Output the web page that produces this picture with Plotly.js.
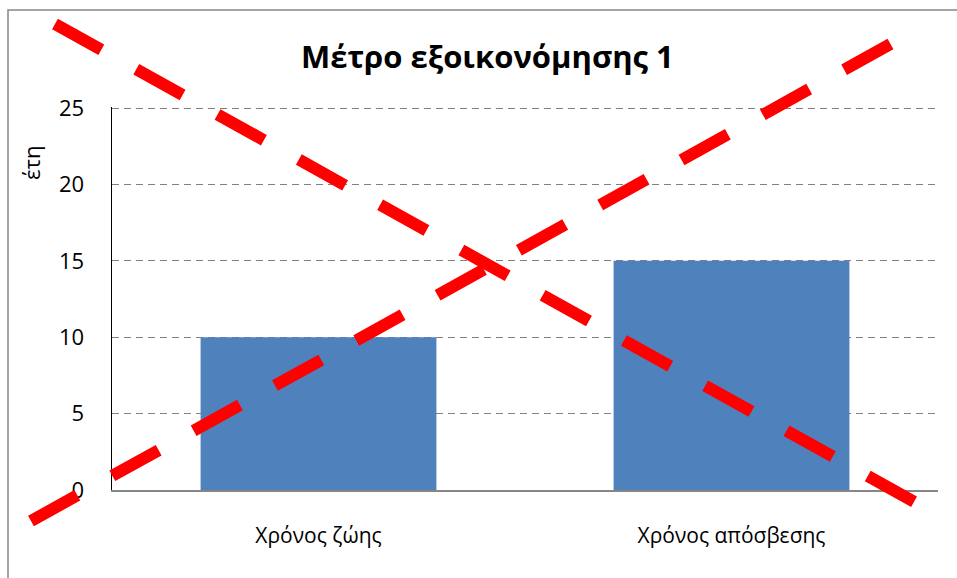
<!DOCTYPE html>
<html>
<head>
<meta charset="utf-8">
<script src="https://cdn.plot.ly/plotly-3.0.1.min.js"></script>
<style>html,body{margin:0;padding:0;background:#fff;}#chart{width:957px;height:578px;}</style>
</head>
<body>
<div id="chart"></div>
<script>
const categories = ["Χρόνος ζώης", "Χρόνος απόσβεσης"];
const years = [10, 15];
const yTicks = [0, 5, 10, 15, 20, 25];
const chartTitle = "Μέτρο εξοικονόμησης 1";
const yTitle = "έτη";

const W = 957, H = 578;
const L = 112, R = 938, T = 107, B = 490;
const px = x => (x - L) / (R - L);
const py = y => (B - y) / (B - T);
const FONT = "Open Sans, Noto Sans, sans-serif";

const trace = {
  type: "bar",
  x: categories,
  y: years,
  marker: {color: "#4F81BD", line: {width: 0}},
  hoverinfo: "none"
};

const layout = {
  width: W, height: H,
  margin: {l: L, r: W - R, t: T, b: H - B, pad: 0},
  paper_bgcolor: "#ffffff",
  plot_bgcolor: "#ffffff",
  showlegend: false,
  bargap: 0.429,
  font: {family: FONT, color: "#000000", size: 22},
  xaxis: {
    showline: true, linecolor: "#868686", linewidth: 1.5,
    showgrid: false, zeroline: false,
    ticks: "", tickfont: {family: FONT, size: 21, color: "#000"},
    ticklabelstandoff: 26,
    fixedrange: true
  },
  yaxis: {
    range: [0, 25.07], tickvals: yTicks, ticktext: yTicks.map(String),
    showline: true, linecolor: "#000000", linewidth: 1.5,
    showgrid: true, gridcolor: "#808080", gridwidth: 1, griddash: "7px,5px",
    zeroline: false, ticks: "",
    tickfont: {family: FONT, size: 22, color: "#000"},
    ticklabelstandoff: 22,
    fixedrange: true
  },
  annotations: [
    {text: "<b>" + chartTitle + "</b>", xref: "paper", yref: "paper",
     x: px(487), y: py(56), xanchor: "center", yanchor: "middle", showarrow: false,
     font: {family: FONT, size: 31, color: "#000"}},
    {text: yTitle, xref: "paper", yref: "paper", textangle: -90,
     x: px(31), y: py(163), xanchor: "center", yanchor: "middle", showarrow: false,
     font: {family: FONT, size: 22, color: "#000"}}
  ],
  shapes: [
    {type: "rect", xref: "paper", yref: "paper", layer: "below",
     x0: px(8), y0: py(700), x1: px(1100), y1: py(10),
     line: {color: "#878787", width: 1.5}, fillcolor: "rgba(0,0,0,0)"},
    {type: "line", xref: "paper", yref: "paper", layer: "above",
     x0: px(55), y0: py(24), x1: px(918), y1: py(504),
     line: {color: "#FF0000", width: 12, dash: "53px,40px"}},
    {type: "line", xref: "paper", yref: "paper", layer: "above",
     x0: px(31), y0: py(521), x1: px(894), y1: py(42),
     line: {color: "#FF0000", width: 12, dash: "53px,40px"}}
  ]
};

Plotly.newPlot("chart", [trace], layout, {displayModeBar: false, staticPlot: true});
</script>
</body>
</html>
